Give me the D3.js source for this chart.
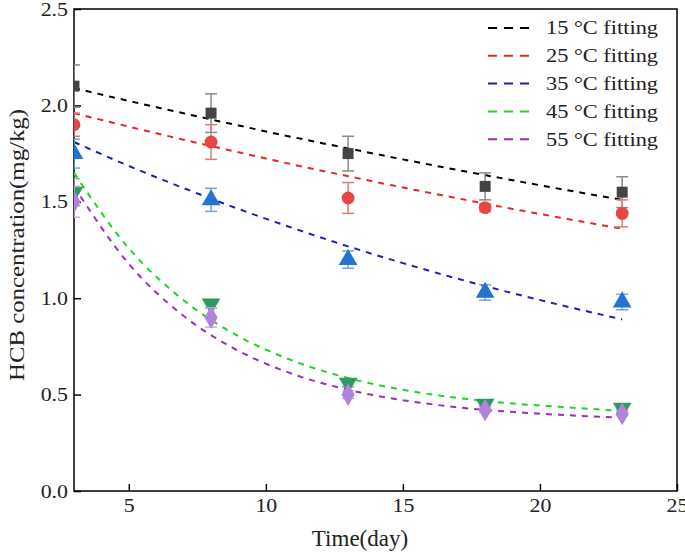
<!DOCTYPE html>
<html><head><meta charset="utf-8">
<script src="https://cdn.jsdelivr.net/npm/d3@7"></script>
<style>body{margin:0;background:#fff}svg{display:block}</style>
</head><body>
<svg id="c" width="685" height="554"></svg>
<script>
// ---- data ----
const days = [3, 8, 13, 18, 23];
const seriesNames = ["15 °C fitting", "25 °C fitting", "35 °C fitting", "45 °C fitting", "55 °C fitting"];
const obs15 = [2.10, 1.96, 1.75, 1.58, 1.55];
const err15 = [0.11, 0.10, 0.09, 0.07, 0.08];
const obs25 = [1.90, 1.81, 1.52, 1.47, 1.44];
const err25 = [0.06, 0.09, 0.08, 0.02, 0.07];
const obs35 = [1.75, 1.51, 1.20, 1.03, 0.98];
const err35 = [0.075, 0.06, 0.045, 0.04, 0.04];
const obs45 = [1.55, 0.97, 0.56, 0.45, 0.43];
const err45 = [0.07, 0.02, 0.02, 0.01, 0.01];
const obs55 = [1.50, 0.90, 0.50, 0.42, 0.40];
const err55 = [0.08, 0.05, 0.02, 0.01, 0.01];
const fitDays = [3, 5, 7, 9, 11, 13, 15, 17, 19, 21, 23];
const fit15 = [2.09, 2.023, 1.959, 1.896, 1.835, 1.777, 1.720, 1.665, 1.612, 1.560, 1.510];
const fit25 = [1.96, 1.890, 1.822, 1.757, 1.693, 1.633, 1.574, 1.518, 1.463, 1.411, 1.360];
const fit35 = [1.81, 1.686, 1.571, 1.463, 1.363, 1.269, 1.182, 1.101, 1.026, 0.956, 0.890];
const fit45 = [1.65, 1.259, 0.989, 0.803, 0.675, 0.586, 0.525, 0.483, 0.454, 0.434, 0.415];
const fit55 = [1.58, 1.178, 0.908, 0.727, 0.606, 0.525, 0.471, 0.434, 0.410, 0.393, 0.380];
const xTicks = [5, 10, 15, 20, 25];
const yTicks = [0.0, 0.5, 1.0, 1.5, 2.0, 2.5];

// ---- styles ----
const fitColors = ["#000000", "#e3262a", "#1c20b8", "#22d12a", "#9a2cc0"];
const markColors = ["#444444", "#e84545", "#2373d0", "#2e9a60", "#b283dc"];
const errColors = ["#8a8a8a", "#e07a7a", "#6aa6e0", "#6cc29a", "#c9a6e8"];
const shapes = [d3.symbolSquare, d3.symbolCircle, d3.symbolTriangle, d3.symbolTriangle, d3.symbolDiamond];
const sizes = [120, 130, 150, 150, 150];
const rot = [0, 0, 0, 180, 0];

const obs = [obs15, obs25, obs35, obs45, obs55];
const errs = [err15, err25, err35, err45, err55];
const fits = [fit15, fit25, fit35, fit45, fit55];

const L = 74, R = 677, T = 9, B = 491;
const x = d3.scaleLinear().domain([3, 25]).range([L, R]);
const y = d3.scaleLinear().domain([0, 2.5]).range([B, T]);
const svg = d3.select("#c");
const font = "'Liberation Serif','Times New Roman',serif";
function stretch(sel, f) {
  sel.each(function () {
    const w = this.getComputedTextLength();
    d3.select(this).attr("textLength", w * f).attr("lengthAdjust", "spacingAndGlyphs");
  });
}

svg.append("defs").append("clipPath").attr("id", "pc")
  .append("rect").attr("x", L).attr("y", T).attr("width", R - L).attr("height", B - T);

// axes
const xa = svg.append("g").attr("transform", `translate(0,${B})`)
  .call(d3.axisBottom(x).tickValues(xTicks).tickSize(-7).tickPadding(8).tickFormat(d3.format("d")));
const ya = svg.append("g").attr("transform", `translate(${L},0)`)
  .call(d3.axisLeft(y).tickValues(yTicks).tickSize(-7).tickPadding(6).tickFormat(d3.format(".1f")));
[xa, ya].forEach(g => {
  g.select(".domain").remove();
  g.selectAll("line").attr("stroke", "#000").attr("stroke-width", 1.5);
  g.selectAll("text").attr("font-family", font).attr("font-size", 19).attr("fill", "#222");
  stretch(g.selectAll("text"), 1.15);
});
xa.selectAll("text").attr("dy", "0.71em");
svg.append("rect").attr("x", L).attr("y", T).attr("width", R - L).attr("height", B - T)
  .attr("fill", "none").attr("stroke", "#000").attr("stroke-width", 1.5);

// fit lines
const plot = svg.append("g").attr("clip-path", "url(#pc)");
const line = d3.line().curve(d3.curveMonotoneX);
fits.forEach((f, i) => {
  plot.append("path")
    .attr("d", line(fitDays.map((d, j) => [x(d), y(f[j])])))
    .attr("fill", "none").attr("stroke", fitColors[i]).attr("stroke-width", 2)
    .attr("stroke-dasharray", "6,6");
});

// error bars & markers
obs.forEach((o, i) => {
  const g = plot.append("g");
  days.forEach((d, j) => {
    const cx = x(d), e = errs[i][j];
    const y1 = y(o[j] + e), y2 = y(o[j] - e);
    g.append("line").attr("x1", cx).attr("x2", cx).attr("y1", y1).attr("y2", y2)
      .attr("stroke", errColors[i]).attr("stroke-width", 1.5);
    [y1, y2].forEach(yy => g.append("line").attr("x1", cx - 6).attr("x2", cx + 6)
      .attr("y1", yy).attr("y2", yy).attr("stroke", errColors[i]).attr("stroke-width", 1.5));
  });
  g.selectAll("path.m").data(days).join("path").attr("class", "m")
    .attr("d", d3.symbol().type(shapes[i]).size(sizes[i]))
    .attr("transform", (d, j) => `translate(${x(d)},${y(o[j])}) rotate(${rot[i]})`)
    .attr("fill", markColors[i]);
});

// legend
const lg = svg.append("g");
seriesNames.forEach((n, i) => {
  const yy = 28 + i * 27.8;
  lg.append("line").attr("x1", 488).attr("x2", 535).attr("y1", yy).attr("y2", yy)
    .attr("stroke", fitColors[i]).attr("stroke-width", 2).attr("stroke-dasharray", "9,7");
  const t = lg.append("text").attr("x", 546).attr("y", yy).attr("dy", "0.35em")
    .attr("font-family", font).attr("font-size", 18).attr("fill", "#222").text(n);
  t.attr("textLength", 112).attr("lengthAdjust", "spacingAndGlyphs");
});

// axis titles
svg.append("text").attr("x", 360).attr("y", 546).attr("text-anchor", "middle")
  .attr("font-family", font).attr("font-size", 23).attr("fill", "#222").text("Time(day)");
svg.append("text").attr("transform", `translate(24,245) rotate(-90)`)
  .attr("text-anchor", "middle")
  .attr("font-family", font).attr("font-size", 22).attr("fill", "#222")
  .attr("textLength", 272).attr("lengthAdjust", "spacingAndGlyphs")
  .text("HCB concentration(mg/kg)");
</script>
</body></html>
